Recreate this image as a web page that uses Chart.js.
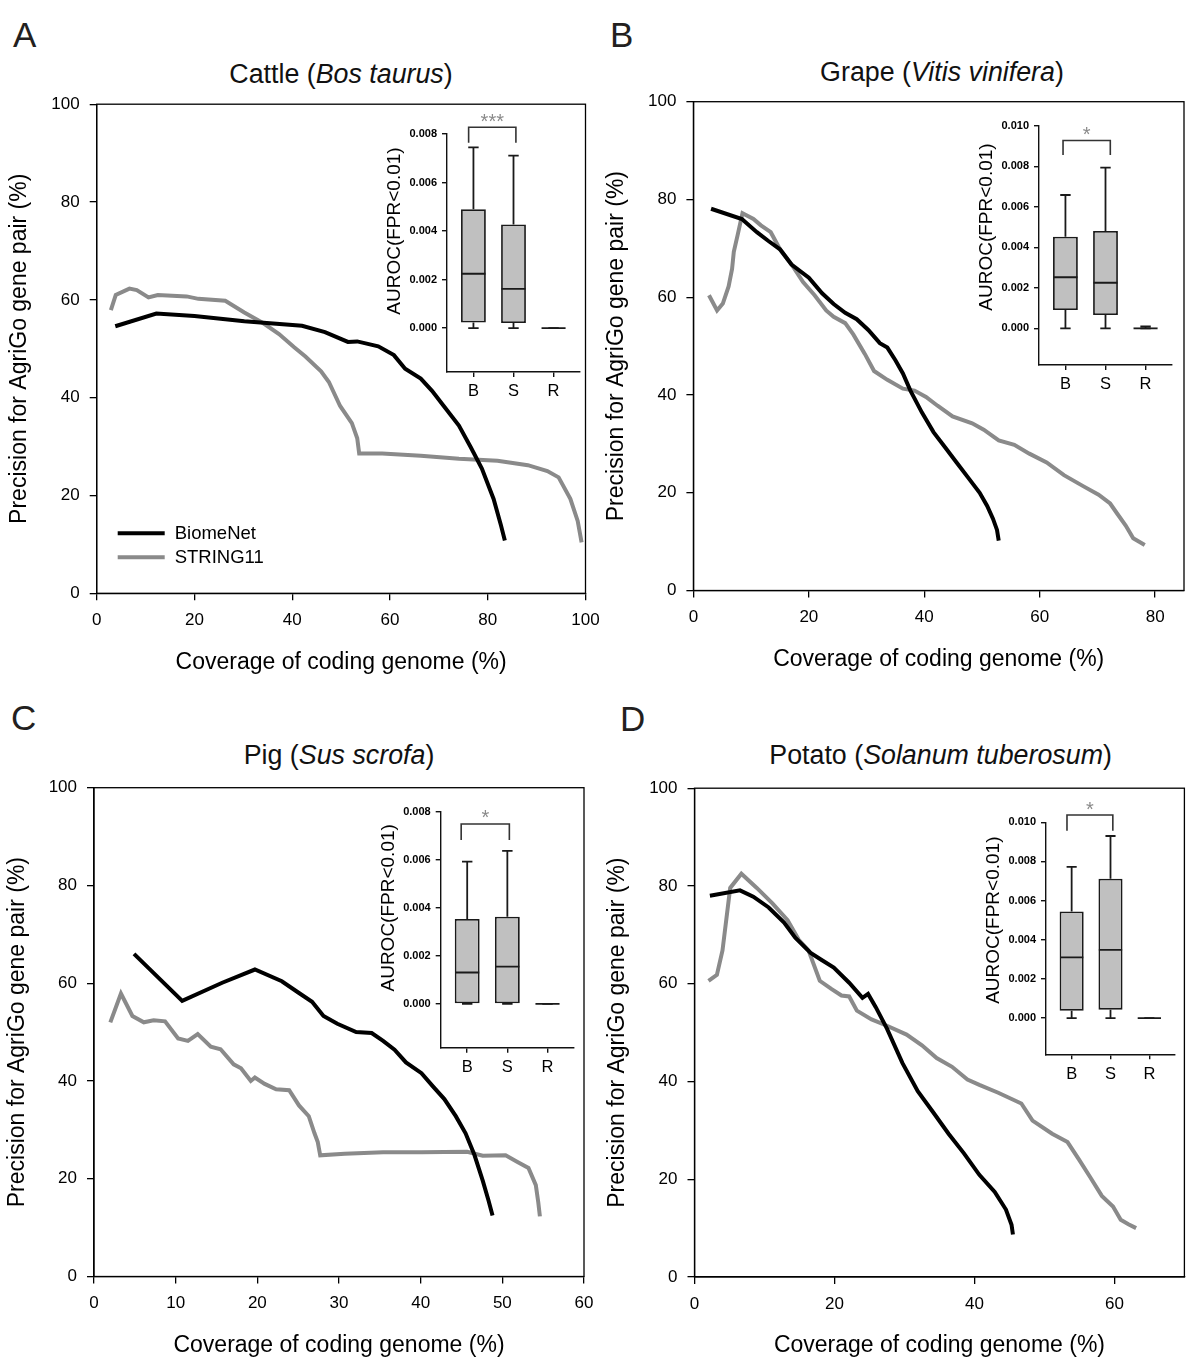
<!DOCTYPE html>
<html><head><meta charset="utf-8">
<script src="https://cdn.jsdelivr.net/npm/chart.js@4.4.1/dist/chart.umd.min.js"></script>
<style>
html,body{margin:0;padding:0;background:#fff;}
#wrap{position:relative;width:1200px;height:1365px;overflow:hidden;background:#fff;font-family:'Liberation Sans',Arial,sans-serif;color:#000;}
canvas{position:absolute;}
.txt{position:absolute;white-space:nowrap;line-height:1;}
</style></head><body><div id="wrap"></div>
<script>
// ---------------- DATA ----------------
const seriesNames = ['BiomeNet', 'STRING11'];
const boxCategories = ['B', 'S', 'R'];
const precisionTicks = [0, 20, 40, 60, 80, 100];
const cattleXTicks = [0, 20, 40, 60, 80, 100];
const grapeXTicks = [0, 20, 40, 60, 80];
const pigXTicks = [0, 10, 20, 30, 40, 50, 60];
const potatoXTicks = [0, 20, 40, 60];
const aurocTicks8 = [0, 0.002, 0.004, 0.006, 0.008];
const aurocTicks10 = [0, 0.002, 0.004, 0.006, 0.008, 0.010];

// Cattle (A)
const cattleBiomeX = [3.8,12.2,20,30.2,42,46.7,51.4,53.3,57.6,60.8,63.1,66.3,68.6,71,74.1,76.5,78.8,81.2,82.7,83.5];
const cattleBiomeY = [54.6,57.2,56.7,55.6,54.7,53.4,51.4,51.5,50.5,48.7,45.9,43.9,41.4,38.3,34.3,29.9,25.5,19.3,13.9,10.8];
const cattleStringX = [2.9,3.9,6.7,8.2,10.6,12.5,18.4,20.8,26.3,30.2,34.1,37.3,40.4,42.7,45.9,47.5,49.8,52.2,53.3,53.7,58.4,66.3,74.1,82,88.2,92.2,94.5,96.9,98.4,99.2];
const cattleStringY = [57.9,61,62.3,62,60.5,61,60.7,60.2,59.8,57.4,55.2,53,50.3,48.4,45.4,43.2,38.3,34.8,31.7,28.6,28.6,28.1,27.5,27.1,26.2,25,23.7,19.3,14.8,10.4];
// box stats per category: [min, q1, median, q3, max]
const cattleBoxB = [0, 0.00023, 0.00224, 0.0049, 0.00745];
const cattleBoxS = [0, 0.00021, 0.00162, 0.00427, 0.00711];
const cattleBoxR = [0, 0, 0, 0, 0];
const cattleSignif = '***';

// Grape (B)
const grapeBiomeX = [3.06,8.4,11,13,15,17,20,22.3,24.3,26.3,28.3,30.3,32.3,33.6,35,36.3,37.6,39.6,41.6,43.6,45.6,47.6,49.6,50.9,51.9,52.6,52.9];
const grapeBiomeY = [78.1,76,73.3,71.5,69.8,66.7,64,60.8,58.6,56.8,55.5,53.3,50.6,49.7,47.1,44.4,40.9,36.4,32.4,29.3,26.2,23.1,20,17.3,14.7,12.4,10.2];
const grapeStringX = [2.7,4.1,5.1,6.1,6.7,7.0,7.7,8.5,10.4,11.7,13.4,15,17,19,21,23,24.3,26.3,27.7,29.7,31.3,33.6,36.3,38.3,40.3,42.3,44.9,48.3,50.3,52.9,55.6,58.2,61.2,64.2,67.6,70.2,72.2,73.5,74.9,76.2,78.2];
const grapeStringY = [60.4,57.3,58.7,62.2,65.8,69.3,72.9,77.2,76,74.7,73.3,69.8,66.7,63.1,60.4,57.3,56,54.7,52.4,48.4,44.9,43.1,41.3,40.9,39.6,37.8,35.6,34.2,32.9,30.7,29.8,28,26.2,23.6,21.3,19.6,17.8,15.6,13.3,10.7,9.3];
const grapeBoxB = [0, 0.0009, 0.00252, 0.00452, 0.00658];
const grapeBoxS = [0, 0.00066, 0.00225, 0.0048, 0.00793];
const grapeBoxR = [0, 0, 0, 0.00003, 0.0001];
const grapeSignif = '*';

// Pig (C)
const pigBiomeX = [4.9,10.8,15.7,19.7,23,25.1,26.7,28.1,29.8,32.1,34,35.4,36.8,38.2,40.1,41.5,42.9,44.3,45.5,46.6,47.6,48.3,48.8];
const pigBiomeY = [66,56.4,60.1,62.8,60.4,58,56.2,53.3,51.7,50,49.8,48.2,46.4,43.8,41.6,38.9,36.3,32.8,29.3,24.8,19.6,15.6,12.5];
const pigStringX = [2.0,3.3,4.7,6.1,7.3,8.7,10.3,11.5,12.7,14.3,15.5,17.1,18,19.2,19.7,20.9,22.3,23.9,25.1,26.3,27,27.4,27.7,30.7,35.4,40.1,45.7,47.6,50.4,51.8,53.2,54.1,54.4,54.6];
const pigStringY = [52,57.9,53.3,52,52.4,52.2,48.7,48.2,49.6,47,46.5,43.4,42.6,40,40.7,39.4,38.3,38.1,35,32.8,29.3,27.5,24.8,25.1,25.4,25.4,25.5,24.7,24.8,23.5,22.2,18.7,15.2,12.3];
const pigBoxB = [0, 0, 0.00131, 0.00354, 0.00592];
const pigBoxS = [0, 0, 0.00155, 0.00363, 0.00637];
const pigBoxR = [0, 0, 0, 0, 0];
const pigSignif = '*';

// Potato (D)
const potatoBiomeX = [2.2,6.5,8.4,10.6,12.8,14.4,16.6,18,19.9,22.1,24,24.8,25.9,27.5,29.7,31.9,34.1,36.3,38.5,40.7,42.9,44.5,45.3,45.5];
const potatoBiomeY = [78,79.1,77.8,75.6,72.5,69.4,66.3,65,63.3,60.2,57.1,57.9,55.2,50.8,43.8,38,33.7,29.3,25.3,20.9,17.4,13.8,10.7,8.7];
const potatoStringX = [2.0,3.2,4,5.1,6.7,8.9,11.1,13.3,14.9,16.3,17.9,19.6,21,22.1,23.2,25.3,27.5,30.3,32.5,34.6,36.8,39,40.7,43.4,46.7,48.3,51.1,53.3,54.9,56.5,58.2,59.8,60.9,62,63.1];
const potatoStringY = [60.6,61.8,66.8,79.6,82.5,79.6,76.5,73,69,66.8,60.6,58.9,57.6,57.4,54.5,52.7,51.4,49.6,47.4,44.8,43,40.4,39.3,37.7,35.5,32,29.3,27.6,24.1,20.5,16.6,14.4,11.7,10.8,10];
const potatoBoxB = [0, 0.00037, 0.0031, 0.00545, 0.00772];
const potatoBoxS = [0, 0.00043, 0.00348, 0.00712, 0.0093];
const potatoBoxR = [0, 0, 0, 0, 0];
const potatoSignif = '*';

// ---------------- SETUP ----------------
const FONT = "'Liberation Sans', Arial, sans-serif";
Chart.defaults.font.family = FONT;
Chart.defaults.color = '#000';
const wrap = document.getElementById('wrap');

const panels = [
  { letter: 'A', letterPos: [13, 47], title: ['Cattle (', 'Bos taurus', ')'], titlePos: [341, 84],
    area: { l: 96.7, t: 104, r: 585.5, b: 593.3 }, xMax: 100, xTicks: cattleXTicks,
    bio: [cattleBiomeX, cattleBiomeY], str: [cattleStringX, cattleStringY], legend: true,
    inset: { l: 447, t: 134, r: 580, b: 372, yMin: -0.00181, yMax: 0.008, yTicks: aurocTicks8,
      boxes: [cattleBoxB, cattleBoxS, cattleBoxR], bracket: [0.88, 2.06, 0.00828, 0.00764], star: [cattleSignif, 0.0087] } },
  { letter: 'B', letterPos: [610, 47], title: ['Grape (', 'Vitis vinifera', ')'], titlePos: [942, 82],
    area: { l: 693.4, t: 101.7, r: 1184, b: 590.5 }, xMax: 85, xTicks: grapeXTicks,
    bio: [grapeBiomeX, grapeBiomeY], str: [grapeStringX, grapeStringY], legend: false,
    inset: { l: 1039, t: 125.7, r: 1172, b: 365, yMin: -0.00181, yMax: 0.010, yTicks: aurocTicks10,
      boxes: [grapeBoxB, grapeBoxS, grapeBoxR], bracket: [0.94, 2.12, 0.00927, 0.00856], star: [grapeSignif, 0.0098] } },
  { letter: 'C', letterPos: [11, 730], title: ['Pig (', 'Sus scrofa', ')'], titlePos: [339, 765],
    area: { l: 94, t: 787.7, r: 584, b: 1276.5 }, xMax: 60, xTicks: pigXTicks,
    bio: [pigBiomeX, pigBiomeY], str: [pigStringX, pigStringY], legend: false,
    inset: { l: 440.7, t: 811.7, r: 574, b: 1047.7, yMin: -0.00182, yMax: 0.008, yTicks: aurocTicks8,
      boxes: [pigBoxB, pigBoxS, pigBoxR], bracket: [0.85, 2.05, 0.00749, 0.00682], star: [pigSignif, 0.00797] } },
  { letter: 'D', letterPos: [620, 731], title: ['Potato (', 'Solanum tuberosum', ')'], titlePos: [940.6, 765],
    area: { l: 694.5, t: 788, r: 1184.4, b: 1277 }, xMax: 70, xTicks: potatoXTicks,
    bio: [potatoBiomeX, potatoBiomeY], str: [potatoStringX, potatoStringY], legend: false,
    inset: { l: 1046, t: 822.3, r: 1175, b: 1054.3, yMin: -0.00185, yMax: 0.010, yTicks: aurocTicks10,
      boxes: [potatoBoxB, potatoBoxS, potatoBoxR], bracket: [0.88, 2.06, 0.01037, 0.00957], star: [potatoSignif, 0.01089] } }
];

function addCanvas(left, top, w, h) {
  const c = document.createElement('canvas');
  c.width = w; c.height = h;
  c.style.left = left + 'px'; c.style.top = top + 'px';
  c.style.width = w + 'px'; c.style.height = h + 'px';
  wrap.appendChild(c);
  return c;
}
function addText(html, x, baseline, size, align, color) {
  const d = document.createElement('div');
  d.className = 'txt';
  d.innerHTML = html;
  d.style.fontSize = size + 'px';
  d.style.top = (baseline - 0.8465 * size) + 'px';
  d.style.left = x + 'px';
  d.style.color = color || '#000';
  if (align === 'center') d.style.transform = 'translateX(-50%)';
  wrap.appendChild(d);
}
const toPts = (xs, ys) => xs.map((x, i) => ({ x: x, y: ys[i] }));

const framePlugin = {
  id: 'frame',
  afterDatasetsDraw(chart) {
    const a = chart.chartArea, ctx = chart.ctx;
    ctx.save();
    ctx.strokeStyle = '#000'; ctx.lineWidth = 1.3;
    ctx.strokeRect(a.left, a.top, a.right - a.left, a.bottom - a.top);
    ctx.restore();
  }
};
const legendPlugin = {
  id: 'mainLegend',
  afterDraw(chart, args, opts) {
    if (!opts || !opts.show) return;
    const ctx = chart.ctx, a = chart.chartArea;
    ctx.save();
    chart.data.datasets.forEach((ds, i) => {
      const y = a.bottom - 60 + i * 24;
      const x0 = a.left + 21;
      ctx.strokeStyle = ds.borderColor; ctx.lineWidth = 4;
      ctx.beginPath(); ctx.moveTo(x0, y); ctx.lineTo(x0 + 47, y); ctx.stroke();
      ctx.fillStyle = '#000';
      ctx.font = '18.5px ' + FONT;
      ctx.textBaseline = 'middle';
      ctx.fillText(ds.label, x0 + 57, y + 1);
    });
    ctx.restore();
  }
};
const insetTextPlugin = {
  id: 'insetText',
  afterDraw(chart, args, opts) {
    if (!opts || !opts.star) return;
    const ctx = chart.ctx, xs = chart.scales.x, ys = chart.scales.y;
    ctx.save();
    const yc = (ys.getPixelForValue(0) + ys.getPixelForValue(opts.yMax)) / 2;
    ctx.translate(chart.chartArea.left - 52, yc);
    ctx.rotate(-Math.PI / 2);
    ctx.font = '19px ' + FONT;
    ctx.fillStyle = '#000';
    ctx.textAlign = 'center';
    ctx.textBaseline = 'middle';
    ctx.fillText('AUROC(FPR<0.01)', 0, 0);
    ctx.restore();
    ctx.save();
    ctx.font = '20px ' + FONT;
    ctx.fillStyle = '#8a8a8a';
    ctx.textAlign = 'center';
    ctx.textBaseline = 'alphabetic';
    const sx = xs.getPixelForValue((opts.bracket[0] + opts.bracket[1]) / 2);
    const sy = ys.getPixelForValue(opts.star[1]);
    ctx.fillText(opts.star[0], sx, sy + 0.57 * 20);
    ctx.restore();
  }
};

function mainChart(p) {
  const A = p.area;
  const cl = Math.floor(A.l - 97), ct = Math.floor(A.t - 20);
  const cw = Math.ceil(A.r + 35 - cl), ch = Math.ceil(A.b + 90 - ct);
  const xH = 86;
  const padTop = A.t - ct, padRight = cl + cw - A.r, padBottom = ct + ch - A.b - xH, yW = A.l - cl;
  const canvas = addCanvas(cl, ct, cw, ch);
  const axisCommon = {
    type: 'linear',
    grid: { display: true, drawOnChartArea: false, drawTicks: true, tickLength: 7, color: '#000', tickColor: '#000', lineWidth: 1.3, tickWidth: 1.3 },
    border: { display: true, color: '#000', width: 1.3 },
  };
  new Chart(canvas, {
    type: 'line',
    data: { datasets: [
      { label: seriesNames[0], data: toPts(p.bio[0], p.bio[1]), borderColor: '#000', borderWidth: 4, pointRadius: 0, fill: false, tension: 0, order: 1 },
      { label: seriesNames[1], data: toPts(p.str[0], p.str[1]), borderColor: '#8a8a8a', borderWidth: 4, pointRadius: 0, fill: false, tension: 0, order: 2 }
    ] },
    options: {
      responsive: false, animation: false, devicePixelRatio: 1, events: [],
      layout: { padding: { left: 0, top: padTop, right: padRight, bottom: padBottom } },
      plugins: { legend: { display: false }, tooltip: { enabled: false }, mainLegend: { show: p.legend } },
      scales: {
        x: Object.assign({}, axisCommon, {
          min: 0, max: p.xMax,
          afterBuildTicks: s => { s.ticks = p.xTicks.map(v => ({ value: v })); },
          afterFit: s => { s.height = xH; },
          ticks: { font: { size: 17 }, color: '#000', padding: 10, maxRotation: 0, autoSkip: false },
          title: { display: true, text: 'Coverage of coding genome (%)', font: { size: 23 }, color: '#000', padding: { top: 0, bottom: 3.2 } }
        }),
        y: Object.assign({}, axisCommon, {
          min: 0, max: 100,
          afterBuildTicks: s => { s.ticks = precisionTicks.map(v => ({ value: v })); },
          afterFit: s => { s.width = yW; },
          ticks: { font: { size: 17 }, color: '#000', padding: 10, autoSkip: false },
          title: { display: true, text: 'Precision for AgriGo gene pair (%)', font: { size: 23 }, color: '#000', padding: { top: 7, bottom: 0 } }
        })
      }
    },
    plugins: [framePlugin, legendPlugin]
  });
}

function insetChart(p) {
  const I = p.inset;
  const cl = Math.floor(I.l - 90), ct = Math.floor(I.t - 40);
  const cw = Math.ceil(I.r + 12 - cl), ch = Math.ceil(I.b + 34 - ct);
  const xH = 30;
  const padTop = I.t - ct, padRight = cl + cw - I.r, padBottom = ct + ch - I.b - xH, yW = I.l - cl;
  const canvas = addCanvas(cl, ct, cw, ch);
  const capHalf = 0.13, medHalf = 0.3;
  const boxData = I.boxes.map((b, i) => ({ x: i + 1, y: [b[1], b[3]] }));
  const whisk = [], med = [];
  I.boxes.forEach((b, i) => {
    const x = i + 1;
    whisk.push({ x: x, y: b[3] }, { x: x, y: b[4] }, { x: x, y: null },
               { x: x - capHalf, y: b[4] }, { x: x + capHalf, y: b[4] }, { x: x, y: null },
               { x: x, y: b[1] }, { x: x, y: b[0] }, { x: x, y: null },
               { x: x - capHalf, y: b[0] }, { x: x + capHalf, y: b[0] }, { x: x, y: null });
    med.push({ x: x - medHalf, y: b[2] }, { x: x + medHalf, y: b[2] }, { x: x, y: null });
  });
  const br = I.bracket;
  const bracketPts = [{ x: br[0], y: br[3] }, { x: br[0], y: br[2] }, { x: br[1], y: br[2] }, { x: br[1], y: br[3] }];
  const axisCommon = {
    type: 'linear', offset: false,
    grid: { display: true, offset: false, drawOnChartArea: false, drawTicks: true, tickLength: 5, color: '#111', tickColor: '#111', lineWidth: 1.4, tickWidth: 1.4 },
    border: { display: true, color: '#111', width: 1.4 },
  };
  new Chart(canvas, {
    type: 'bar',
    data: { datasets: [
      { type: 'bar', data: boxData, backgroundColor: '#c0c0c0', borderColor: '#1a1a1a', borderWidth: 1.8, borderSkipped: false, barPercentage: 0.62, categoryPercentage: 1, order: 3 },
      { type: 'line', data: whisk, borderColor: '#1a1a1a', borderWidth: 1.8, pointRadius: 0, spanGaps: false, fill: false, order: 2 },
      { type: 'line', data: med, borderColor: '#1a1a1a', borderWidth: 1.8, pointRadius: 0, spanGaps: false, fill: false, order: 1 },
      { type: 'line', data: bracketPts, borderColor: '#333', borderWidth: 1.6, pointRadius: 0, fill: false, clip: false, order: 0 }
    ] },
    options: {
      responsive: false, animation: false, devicePixelRatio: 1, events: [],
      layout: { padding: { left: 0, top: padTop, right: padRight, bottom: padBottom } },
      plugins: { legend: { display: false }, tooltip: { enabled: false },
        insetText: { star: I.star, bracket: I.bracket, yMax: I.yMax } },
      scales: {
        x: Object.assign({}, axisCommon, {
          min: 0.34, max: 3.66,
          afterBuildTicks: s => { s.ticks = boxCategories.map((c, i) => ({ value: i + 1 })); },
          afterFit: s => { s.height = xH; },
          ticks: { font: { size: 16.5 }, color: '#000', padding: 5, maxRotation: 0, autoSkip: false,
            callback: v => boxCategories[Math.round(v) - 1] }
        }),
        y: Object.assign({}, axisCommon, {
          min: I.yMin, max: I.yMax,
          afterBuildTicks: s => { s.ticks = I.yTicks.map(v => ({ value: v })); },
          afterFit: s => { s.width = yW; },
          ticks: { font: { size: 11, weight: 'bold' }, color: '#000', padding: 5, autoSkip: false, callback: v => v.toFixed(3) }
        })
      }
    },
    plugins: [insetTextPlugin]
  });
}

panels.forEach(p => {
  addText(p.letter, p.letterPos[0], p.letterPos[1], 35, 'left', '#231f20');
  addText(p.title[0] + '<i>' + p.title[1] + '</i>' + p.title[2], p.titlePos[0], p.titlePos[1], 26.8, 'center', '#111');
  mainChart(p);
  insetChart(p);
});
</script></body></html>
